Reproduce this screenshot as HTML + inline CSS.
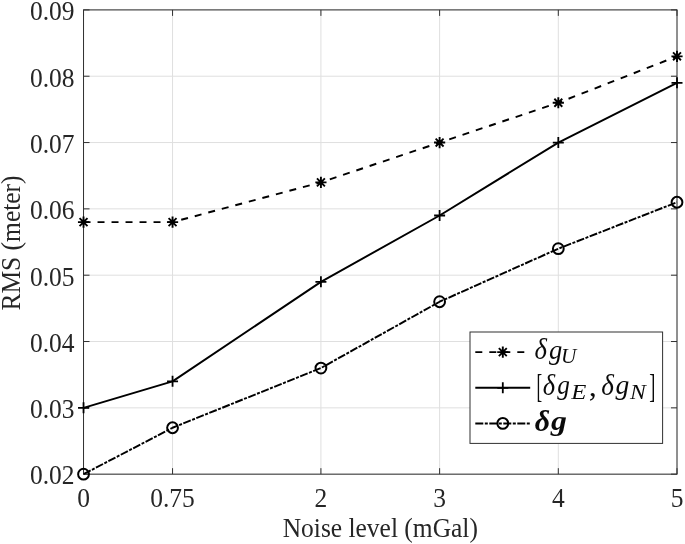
<!DOCTYPE html>
<html lang="en"><head><meta charset="utf-8"><title>RMS vs noise level</title>
<style>
html,body{margin:0;padding:0;background:#fff;}
body{width:685px;height:544px;overflow:hidden;}
svg{display:block;}
text{font-family:"Liberation Serif",serif;fill:#262626;}
.tk{font-size:25.5px;}
.lb{font-size:25.5px;}
.mi{font-style:italic;}
.bi{font-style:italic;font-weight:bold;}
</style></head><body>
<svg width="685" height="544" viewBox="0 0 685 544">
<rect x="0" y="0" width="685" height="544" fill="#fff"/>
<g stroke="#dfdfdf" stroke-width="1" fill="none">
<line x1="83.53" y1="9.90" x2="83.53" y2="474.17"/>
<line x1="172.55" y1="9.90" x2="172.55" y2="474.17"/>
<line x1="320.92" y1="9.90" x2="320.92" y2="474.17"/>
<line x1="439.61" y1="9.90" x2="439.61" y2="474.17"/>
<line x1="558.31" y1="9.90" x2="558.31" y2="474.17"/>
<line x1="677.00" y1="9.90" x2="677.00" y2="474.17"/>
<line x1="83.53" y1="474.17" x2="677.00" y2="474.17"/>
<line x1="83.53" y1="407.85" x2="677.00" y2="407.85"/>
<line x1="83.53" y1="341.52" x2="677.00" y2="341.52"/>
<line x1="83.53" y1="275.20" x2="677.00" y2="275.20"/>
<line x1="83.53" y1="208.87" x2="677.00" y2="208.87"/>
<line x1="83.53" y1="142.55" x2="677.00" y2="142.55"/>
<line x1="83.53" y1="76.22" x2="677.00" y2="76.22"/>
<line x1="83.53" y1="9.90" x2="677.00" y2="9.90"/>
</g>
<g stroke="#303030" stroke-width="1" fill="none">
<rect x="83.53" y="9.90" width="593.47" height="464.27"/>
<line x1="83.53" y1="474.17" x2="83.53" y2="468.17"/>
<line x1="83.53" y1="9.90" x2="83.53" y2="15.90"/>
<line x1="172.55" y1="474.17" x2="172.55" y2="468.17"/>
<line x1="172.55" y1="9.90" x2="172.55" y2="15.90"/>
<line x1="320.92" y1="474.17" x2="320.92" y2="468.17"/>
<line x1="320.92" y1="9.90" x2="320.92" y2="15.90"/>
<line x1="439.61" y1="474.17" x2="439.61" y2="468.17"/>
<line x1="439.61" y1="9.90" x2="439.61" y2="15.90"/>
<line x1="558.31" y1="474.17" x2="558.31" y2="468.17"/>
<line x1="558.31" y1="9.90" x2="558.31" y2="15.90"/>
<line x1="677.00" y1="474.17" x2="677.00" y2="468.17"/>
<line x1="677.00" y1="9.90" x2="677.00" y2="15.90"/>
<line x1="83.53" y1="474.17" x2="89.53" y2="474.17"/>
<line x1="677.00" y1="474.17" x2="671.00" y2="474.17"/>
<line x1="83.53" y1="407.85" x2="89.53" y2="407.85"/>
<line x1="677.00" y1="407.85" x2="671.00" y2="407.85"/>
<line x1="83.53" y1="341.52" x2="89.53" y2="341.52"/>
<line x1="677.00" y1="341.52" x2="671.00" y2="341.52"/>
<line x1="83.53" y1="275.20" x2="89.53" y2="275.20"/>
<line x1="677.00" y1="275.20" x2="671.00" y2="275.20"/>
<line x1="83.53" y1="208.87" x2="89.53" y2="208.87"/>
<line x1="677.00" y1="208.87" x2="671.00" y2="208.87"/>
<line x1="83.53" y1="142.55" x2="89.53" y2="142.55"/>
<line x1="677.00" y1="142.55" x2="671.00" y2="142.55"/>
<line x1="83.53" y1="76.22" x2="89.53" y2="76.22"/>
<line x1="677.00" y1="76.22" x2="671.00" y2="76.22"/>
<line x1="83.53" y1="9.90" x2="89.53" y2="9.90"/>
<line x1="677.00" y1="9.90" x2="671.00" y2="9.90"/>
</g>
<text class="tk" transform="translate(83.53,506.70) scale(1,1.080)" text-anchor="middle">0</text>
<text class="tk" transform="translate(172.55,506.70) scale(1,1.080)" text-anchor="middle">0.75</text>
<text class="tk" transform="translate(320.92,506.70) scale(1,1.080)" text-anchor="middle">2</text>
<text class="tk" transform="translate(439.61,506.70) scale(1,1.080)" text-anchor="middle">3</text>
<text class="tk" transform="translate(558.31,506.70) scale(1,1.080)" text-anchor="middle">4</text>
<text class="tk" transform="translate(677.00,506.70) scale(1,1.080)" text-anchor="middle">5</text>
<text class="tk" transform="translate(74.60,484.47) scale(1,1.080)" text-anchor="end">0.02</text>
<text class="tk" transform="translate(74.60,418.15) scale(1,1.080)" text-anchor="end">0.03</text>
<text class="tk" transform="translate(74.60,351.82) scale(1,1.080)" text-anchor="end">0.04</text>
<text class="tk" transform="translate(74.60,285.50) scale(1,1.080)" text-anchor="end">0.05</text>
<text class="tk" transform="translate(74.60,219.17) scale(1,1.080)" text-anchor="end">0.06</text>
<text class="tk" transform="translate(74.60,152.85) scale(1,1.080)" text-anchor="end">0.07</text>
<text class="tk" transform="translate(74.60,86.52) scale(1,1.080)" text-anchor="end">0.08</text>
<text class="tk" transform="translate(74.60,20.20) scale(1,1.080)" text-anchor="end">0.09</text>
<text class="lb" transform="translate(380.30,537.00) scale(1,1.080)" text-anchor="middle">Noise level (mGal)</text>
<text class="lb" transform="translate(19.80,243.00) rotate(-90) scale(1,1.080)" text-anchor="middle">RMS (meter)</text>
<g>
<polyline points="83.53,222.14 172.55,222.14 320.92,182.34 439.61,142.55 558.31,102.75 677.00,56.33" fill="none" stroke="#000" stroke-width="1.95" stroke-linejoin="round" stroke-dasharray="7,7"/>
<path d="M77.93 222.14H89.13M83.53 216.54V227.74M79.57 218.18L87.49 226.10M79.57 226.10L87.49 218.18" stroke="#000" stroke-width="1.90" fill="none"/>
<path d="M166.95 222.14H178.15M172.55 216.54V227.74M168.59 218.18L176.51 226.10M168.59 226.10L176.51 218.18" stroke="#000" stroke-width="1.90" fill="none"/>
<path d="M315.32 182.34H326.52M320.92 176.74V187.94M316.96 178.38L324.88 186.30M316.96 186.30L324.88 178.38" stroke="#000" stroke-width="1.90" fill="none"/>
<path d="M434.01 142.55H445.21M439.61 136.95V148.15M435.65 138.59L443.57 146.51M435.65 146.51L443.57 138.59" stroke="#000" stroke-width="1.90" fill="none"/>
<path d="M552.71 102.75H563.91M558.31 97.15V108.35M554.35 98.79L562.27 106.71M554.35 106.71L562.27 98.79" stroke="#000" stroke-width="1.90" fill="none"/>
<path d="M671.40 56.33H682.60M677.00 50.73V61.93M673.04 52.37L680.96 60.29M673.04 60.29L680.96 52.37" stroke="#000" stroke-width="1.90" fill="none"/>
<polyline points="83.53,407.85 172.55,381.32 320.92,281.83 439.61,215.51 558.31,142.55 677.00,82.86" fill="none" stroke="#000" stroke-width="1.95" stroke-linejoin="round"/>
<path d="M78.03 407.85H89.03M83.53 402.35V413.35" stroke="#000" stroke-width="1.80" fill="none"/>
<path d="M167.05 381.32H178.05M172.55 375.82V386.82" stroke="#000" stroke-width="1.80" fill="none"/>
<path d="M315.42 281.83H326.42M320.92 276.33V287.33" stroke="#000" stroke-width="1.80" fill="none"/>
<path d="M434.11 215.51H445.11M439.61 210.01V221.01" stroke="#000" stroke-width="1.80" fill="none"/>
<path d="M552.81 142.55H563.81M558.31 137.05V148.05" stroke="#000" stroke-width="1.80" fill="none"/>
<path d="M671.50 82.86H682.50M677.00 77.36V88.36" stroke="#000" stroke-width="1.80" fill="none"/>
<polyline points="83.53,474.17 172.55,427.74 320.92,368.05 439.61,301.73 558.31,248.67 677.00,202.24" fill="none" stroke="#000" stroke-width="1.95" stroke-linejoin="round" stroke-dasharray="8,1.5,3,1.5"/>
<circle cx="83.53" cy="474.17" r="5.40" stroke="#000" stroke-width="2.00" fill="none"/>
<circle cx="172.55" cy="427.74" r="5.40" stroke="#000" stroke-width="2.00" fill="none"/>
<circle cx="320.92" cy="368.05" r="5.40" stroke="#000" stroke-width="2.00" fill="none"/>
<circle cx="439.61" cy="301.73" r="5.40" stroke="#000" stroke-width="2.00" fill="none"/>
<circle cx="558.31" cy="248.67" r="5.40" stroke="#000" stroke-width="2.00" fill="none"/>
<circle cx="677.00" cy="202.24" r="5.40" stroke="#000" stroke-width="2.00" fill="none"/>
</g>
<rect x="470.00" y="332.00" width="192.60" height="111.40" fill="#fff" stroke="#303030" stroke-width="1"/>
<line x1="475.30" y1="352.10" x2="530.20" y2="352.10" stroke="#000" stroke-width="1.95" stroke-dasharray="7,7"/>
<path d="M497.20 352.10H508.40M502.80 346.50V357.70M498.84 348.14L506.76 356.06M498.84 356.06L506.76 348.14" stroke="#000" stroke-width="1.90" fill="none"/>
<line x1="475.30" y1="387.80" x2="530.20" y2="387.80" stroke="#000" stroke-width="1.95"/>
<path d="M497.30 387.80H508.30M502.80 382.30V393.30" stroke="#000" stroke-width="1.80" fill="none"/>
<line x1="475.30" y1="423.40" x2="530.20" y2="423.40" stroke="#000" stroke-width="1.95" stroke-dasharray="8,1.5,3,1.5"/>
<circle cx="502.80" cy="423.40" r="5.40" stroke="#000" stroke-width="2.00" fill="none"/>
<text style="fill:#0a0a0a"><tspan class="mi" x="534.47" y="359.16" font-size="29.92" textLength="12.43" lengthAdjust="spacingAndGlyphs">δ</tspan><tspan class="mi" x="549.04" y="358.91" font-size="26.48" textLength="13.29" lengthAdjust="spacingAndGlyphs">g</tspan><tspan class="mi" x="560.91" y="363.14" font-size="21.52" textLength="15.30" lengthAdjust="spacingAndGlyphs">U</tspan></text>
<text style="fill:#0a0a0a"><tspan x="536.58" y="397.24" font-size="34.44" textLength="5.68" lengthAdjust="spacingAndGlyphs">[</tspan><tspan class="mi" x="542.67" y="395.15" font-size="30.49" textLength="12.33" lengthAdjust="spacingAndGlyphs">δ</tspan><tspan class="mi" x="557.24" y="394.41" font-size="26.48" textLength="12.65" lengthAdjust="spacingAndGlyphs">g</tspan><tspan class="mi" x="571.34" y="399.35" font-size="21.08" textLength="15.11" lengthAdjust="spacingAndGlyphs">E</tspan><tspan x="588.72" y="395.56" font-size="29.20" textLength="8.06" lengthAdjust="spacingAndGlyphs">,</tspan><tspan class="mi" x="601.25" y="395.15" font-size="30.49" textLength="12.64" lengthAdjust="spacingAndGlyphs">δ</tspan><tspan class="mi" x="615.54" y="394.41" font-size="26.48" textLength="13.82" lengthAdjust="spacingAndGlyphs">g</tspan><tspan class="mi" x="630.02" y="399.35" font-size="21.08" textLength="15.83" lengthAdjust="spacingAndGlyphs">N</tspan><tspan x="649.18" y="397.24" font-size="34.44" textLength="6.13" lengthAdjust="spacingAndGlyphs">]</tspan></text>
<text style="fill:#0a0a0a"><tspan class="bi" x="534.78" y="430.66" font-size="30.20" textLength="15.35" lengthAdjust="spacingAndGlyphs">δ</tspan><tspan class="bi" x="551.14" y="430.26" font-size="27.19" textLength="15.85" lengthAdjust="spacingAndGlyphs">g</tspan></text>
</svg>
</body></html>
